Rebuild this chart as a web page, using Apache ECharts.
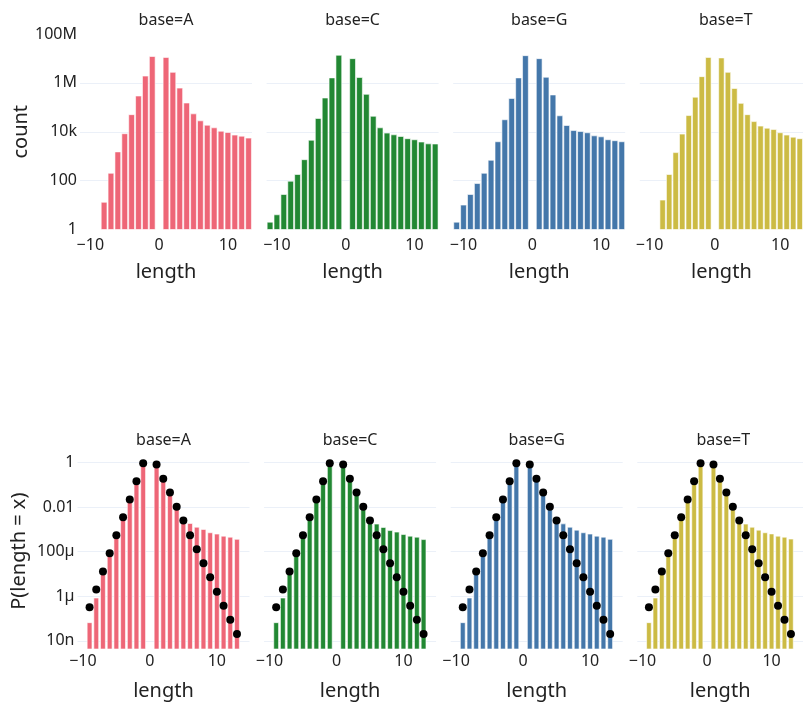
<!DOCTYPE html>
<html><head><meta charset="utf-8">
<script src="https://cdn.jsdelivr.net/npm/echarts@6/dist/echarts.min.js"></script>
<style>html,body{margin:0;padding:0;background:#fff}#c{width:803px;height:702px}</style>
</head><body><div id="c"></div>
<script>
// ---------- data ----------
const bases = ['A', 'C', 'G', 'T'];
const baseColors = ['#EE6677', '#228833', '#4477AA', '#CCBB44'];

// top row: counts by length
const countLengths = [-11, -10, -9, -8, -7, -6, -5, -4, -3, -2, -1, 1, 2, 3, 4, 5, 6, 7, 8, 9, 10, 11, 12, 13];
const countA = [null, null, null, 13, 200, 1500, 8300, 50000, 290000, 1900000, 12000000, 11000000, 2700000, 610000, 150000, 54000, 28000, 18500, 14500, 10500, 9300, 7300, 6600, 5500];
const countC = [2, 4, 27, 95, 178, 720, 4500, 35000, 240000, 1600000, 13500000, 9800000, 1660000, 340000, 43000, 14500, 8800, 7500, 6400, 5200, 4700, 3800, 3200, 3150];
const countG = [2, 10, 27, 76, 200, 680, 3900, 31000, 230000, 1600000, 13000000, 9800000, 1700000, 320000, 45000, 18000, 11200, 10200, 9100, 6800, 6200, 4700, 4300, 3900];
const countT = [null, null, null, 16, 178, 1400, 8000, 46000, 260000, 1800000, 11000000, 10500000, 2700000, 590000, 145000, 50000, 26000, 17000, 14000, 12300, 9100, 7300, 6000, 5200];

// bottom row: P(length = x)
const probLengths = [-9, -8, -7, -6, -5, -4, -3, -2, -1, 1, 2, 3, 4, 5, 6, 7, 8, 9, 10, 11, 12, 13];
const probA = [6.5e-8, 8.3e-7, 1.05e-5, 7.2e-5, 5.0e-4, 3.2e-3, 0.021, 0.135, 0.83, 0.76, 0.166, 0.039, 9.1e-3, 3.1e-3, 1.86e-3, 1.26e-3, 1.0e-3, 7.1e-4, 6.2e-4, 5.0e-4, 4.5e-4, 3.6e-4];
const probC = [6.5e-8, 8.3e-7, 1.12e-5, 7.4e-5, 5.0e-4, 3.2e-3, 0.021, 0.126, 0.78, 0.66, 0.166, 0.042, 9.3e-3, 2.8e-3, 1.74e-3, 1.23e-3, 8.9e-4, 7.6e-4, 5.9e-4, 5.0e-4, 4.5e-4, 3.5e-4];
const probG = [6.5e-8, 8.3e-7, 1.12e-5, 7.4e-5, 5.0e-4, 3.2e-3, 0.021, 0.126, 0.78, 0.66, 0.166, 0.039, 9.1e-3, 2.8e-3, 1.78e-3, 1.26e-3, 9.3e-4, 7.1e-4, 6.2e-4, 5.0e-4, 4.5e-4, 3.6e-4];
const probT = [6.5e-8, 8.3e-7, 1.12e-5, 7.4e-5, 5.0e-4, 3.2e-3, 0.021, 0.126, 0.78, 0.71, 0.178, 0.042, 9.1e-3, 2.8e-3, 1.74e-3, 1.26e-3, 9.3e-4, 7.1e-4, 6.3e-4, 5.0e-4, 4.5e-4, 3.7e-4];
const modelP = [3.2e-7, 2.0e-6, 1.3e-5, 8.5e-5, 5.5e-4, 3.5e-3, 0.0224, 0.145, 0.93, 0.83, 0.19, 0.046, 0.0105, 2.5e-3, 5.5e-4, 1.3e-4, 3.0e-5, 7.1e-6, 1.6e-6, 3.7e-7, 8.7e-8, 2.0e-8];

// ticks
const xTicks = [-10, 0, 10];
const countTicks = [1, 100, 1e4, 1e6, 1e8];
const probTicks = [1e-8, 1e-6, 1e-4, 1e-2, 1];

// ---------- build ----------
const counts = [countA, countC, countG, countT];
const probs = [probA, probC, probG, probT];
const FONT = 'Noto Sans';
const TXT = '#222';
const GRIDC = '#EBF0F8';

function siLabel(lv) {
  const e = Math.round(lv);
  if (e >= 3) {
    const p = Math.floor(e / 3) * 3;
    return Math.round(Math.pow(10, e - p)) + ({3: 'k', 6: 'M', 9: 'G'})[p];
  }
  if (e >= -2) return String(+Math.pow(10, e).toFixed(Math.max(0, -e)));
  const p = Math.floor(e / 3) * 3;
  return Math.round(Math.pow(10, e - p)) + ({'-3': 'm', '-6': 'µ', '-9': 'n'})[String(p)];
}
function xLabel(v) { return v < 0 ? '\u2212' + (-v) : String(v); }

const grids = [], xAxes = [], yAxes = [], series = [], titles = [];
const rows = [
  {top: 34, height: 195.5, left0: 80, xmin: -11.5, xmax: 13.5, ymin: 0, ymax: 8,
   labelTicks: countTicks.map(Math.log10), lineTicks: countTicks.slice(1, -1).map(Math.log10),
   yname: 'count', lblMargin: 8, nameGap: 33, barW: 0.84, titleTop: 12.5},
  {top: 453.3, height: 196, left0: 77.5, xmin: -10.8, xmax: 14.87, ymin: -8.37, ymax: 0.42,
   labelTicks: probTicks.map(Math.log10), lineTicks: probTicks.map(Math.log10),
   yname: 'P(length = x)', lblMargin: 4, nameGap: 32, barW: 0.72, titleTop: 432}
];
const pitch = 186.6, gw = 172;

rows.forEach((r, ri) => {
  bases.forEach((b, bi) => {
    const gi = grids.length;
    const left = r.left0 + pitch * bi;
    grids.push({left: left, top: r.top, width: gw, height: r.height, containLabel: false});
    titles.push({text: 'base=' + b, left: left + gw / 2, top: r.titleTop, textAlign: 'center', padding: 0,
      textStyle: {fontFamily: FONT, fontSize: 16, fontWeight: 'normal', color: TXT}});
    xAxes.push({type: 'value', gridIndex: gi, min: r.xmin, max: r.xmax,
      name: 'length', nameLocation: 'middle', nameGap: r.nameGap,
      nameTextStyle: {fontFamily: FONT, fontSize: 20, color: TXT},
      axisLine: {show: false}, splitLine: {show: false},
      axisTick: {show: false, customValues: xTicks},
      axisLabel: {customValues: xTicks, formatter: xLabel, margin: r.lblMargin,
        fontFamily: FONT, fontSize: 16, color: TXT}});
    yAxes.push({type: 'value', gridIndex: gi, min: r.ymin, max: r.ymax,
      name: bi === 0 ? r.yname : '', nameLocation: 'middle', nameGap: 48,
      nameTextStyle: {fontFamily: FONT, fontSize: 20, color: TXT},
      axisLine: {show: false},
      axisTick: {show: false, customValues: r.lineTicks},
      splitLine: {show: true, lineStyle: {color: GRIDC, width: 1}},
      axisLabel: {show: bi === 0, customValues: r.labelTicks, formatter: siLabel, margin: 3,
        fontFamily: FONT, fontSize: 16, color: TXT}});
    const lens = ri === 0 ? countLengths : probLengths;
    const vals = ri === 0 ? counts[bi] : probs[bi];
    const data = [];
    lens.forEach((x, i) => { if (vals[i] != null) data.push([x, Math.log10(vals[i])]); });
    const baseLog = r.ymin, bw = r.barW, col = baseColors[bi];
    series.push({type: 'custom', xAxisIndex: gi, yAxisIndex: gi, clip: true, data: data,
      renderItem: function (params, api) {
        const x = api.value(0), v = api.value(1);
        const p1 = api.coord([x - bw / 2, v]);
        const p0 = api.coord([x + bw / 2, baseLog]);
        return {type: 'rect', shape: {x: p1[0], y: p1[1], width: p0[0] - p1[0], height: p0[1] - p1[1]},
          style: {fill: col, stroke: '#fff', lineWidth: 0.6}};
      }});
    if (ri === 1) {
      series.push({type: 'scatter', xAxisIndex: gi, yAxisIndex: gi, symbolSize: 8,
        itemStyle: {color: '#000', opacity: 1}, z: 5,
        data: probLengths.map((x, i) => [x, Math.log10(modelP[i])])});
    }
  });
});

const chart = echarts.init(document.getElementById('c'), null, {renderer: 'canvas'});
chart.setOption({animation: false, backgroundColor: '#fff', title: titles, grid: grids,
  xAxis: xAxes, yAxis: yAxes, series: series});
</script></body></html>
